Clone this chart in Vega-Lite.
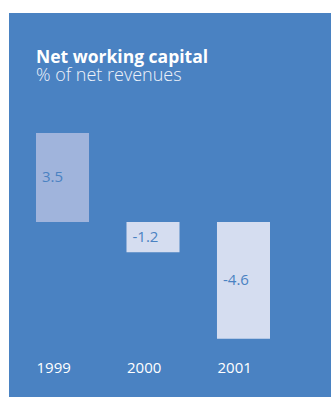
{
  "$schema": "https://vega.github.io/schema/vega-lite/v6.json",
  "width": 322,
  "height": 384,
  "autosize": "none",
  "padding": {"left": 9, "top": 13, "right": 0, "bottom": 0},
  "background": "white",
  "config": {"view": {"fill": "#4a82c2", "stroke": null}},
  "title": {
    "text": "Net working capital",
    "subtitle": "% of net revenues",
    "anchor": "start",
    "frame": "group",
    "orient": "top",
    "offset": -72,
    "dx": 27,
    "font": "Open Sans",
    "fontSize": 17.5,
    "fontWeight": "bold",
    "color": "white",
    "subtitleFont": "Open Sans",
    "subtitleFontSize": 18,
    "subtitleFontWeight": 300,
    "subtitleColor": "#eef2fa",
    "subtitlePadding": 1
  },
  "data": {
    "values": [
      {"year": "1999", "value": 3.5},
      {"year": "2000", "value": -1.2},
      {"year": "2001", "value": -4.6}
    ]
  },
  "encoding": {
    "x": {
      "field": "year",
      "type": "ordinal",
      "scale": {"range": [27, 261], "paddingInner": 0.414, "paddingOuter": 0},
      "axis": {
        "orient": "bottom",
        "domain": false,
        "ticks": false,
        "grid": false,
        "labelAngle": 0,
        "labelAlign": "left",
        "labelOffset": -26,
        "labelBaseline": "alphabetic",
        "labelPadding": -25,
        "labelColor": "white",
        "labelFont": "Open Sans",
        "labelFontSize": 15,
        "title": null
      }
    }
  },
  "layer": [
    {
      "mark": {"type": "bar", "strokeWidth": 0},
      "encoding": {
        "y": {"field": "value", "type": "quantitative", "scale": {"domain": [-6.9, 8.23], "nice": false}, "axis": null},
        "color": {"field": "year", "type": "nominal", "scale": {"domain": ["1999", "2000", "2001"], "range": ["#a0b4dc", "#d5ddf0", "#d5ddf0"]}, "legend": null}
      }
    },
    {
      "mark": {"type": "text", "align": "left", "baseline": "middle", "dx": -20.5, "font": "Open Sans", "fontSize": 15, "color": "#4a82c2"},
      "encoding": {
        "y": {"field": "value", "type": "quantitative", "scale": {"domain": [-13.8, 16.46], "nice": false}, "axis": null},
        "text": {"field": "value", "type": "nominal"}
      }
    }
  ],
  "resolve": {"scale": {"y": "independent"}}
}
